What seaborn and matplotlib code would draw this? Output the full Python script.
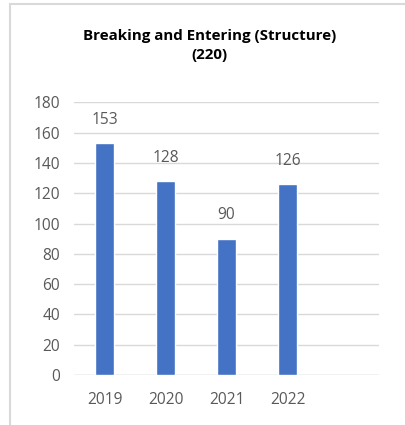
import matplotlib
matplotlib.use('Agg')
import matplotlib.pyplot as plt
from matplotlib.lines import Line2D
import pandas as pd
import seaborn as sns

# ── Data ─────────────────────────────────────────────────────────────────────
years  = ['2019', '2020', '2021', '2022']
counts = [153, 128, 90, 126]
title  = 'Breaking and Entering (Structure)\n(220)'
yticks = [0, 20, 40, 60, 80, 100, 120, 140, 160, 180]

BAR_COLOR  = '#4472C4'
GRID_COLOR = '#D9D9D9'
TEXT_COLOR = '#595959'

sns.set_theme(style='white')
plt.rcParams['font.family'] = ['Open Sans', 'DejaVu Sans']

df = pd.DataFrame({'year': years, 'count': counts})

fig = plt.figure(figsize=(4.06, 4.25), dpi=100)
ax = fig.add_axes([0.1823, 0.1176, 0.7512, 0.6417])

sns.barplot(data=df, x='year', y='count', order=years, color=BAR_COLOR,
            width=0.31, saturation=1, ax=ax, zorder=3)

ax.set_xlim(-0.5, 4.5)
ax.set_ylim(0, 180)
ax.set_yticks(yticks)
ax.set_xlabel('')
ax.set_ylabel('')
ax.grid(axis='y', color=GRID_COLOR, linewidth=1, zorder=0)
for side in ['top', 'right', 'left', 'bottom']:
    ax.spines[side].set_visible(False)
ax.axhline(0, color=GRID_COLOR, linewidth=1, zorder=1)
ax.tick_params(axis='both', length=0, labelsize=11.2, colors=TEXT_COLOR, pad=12)
ax.tick_params(axis='y', pad=10)

ax.bar_label(ax.containers[0], labels=[str(c) for c in counts],
             padding=11, fontsize=11.2, color=TEXT_COLOR)

fig.text(0.517, 0.893, title, ha='center', va='center', fontsize=10.9,
         fontweight='bold', color='black', linespacing=1.45)

# chart frame (left and top edges visible)
fig.add_artist(Line2D([10.5 / 406, 10.5 / 406], [0, 1 - 3.5 / 425],
                      transform=fig.transFigure, color=GRID_COLOR, linewidth=1.5))
fig.add_artist(Line2D([10.5 / 406, 1], [1 - 3.5 / 425, 1 - 3.5 / 425],
                      transform=fig.transFigure, color=GRID_COLOR, linewidth=1.5))

fig.savefig('out.png', dpi=100)
